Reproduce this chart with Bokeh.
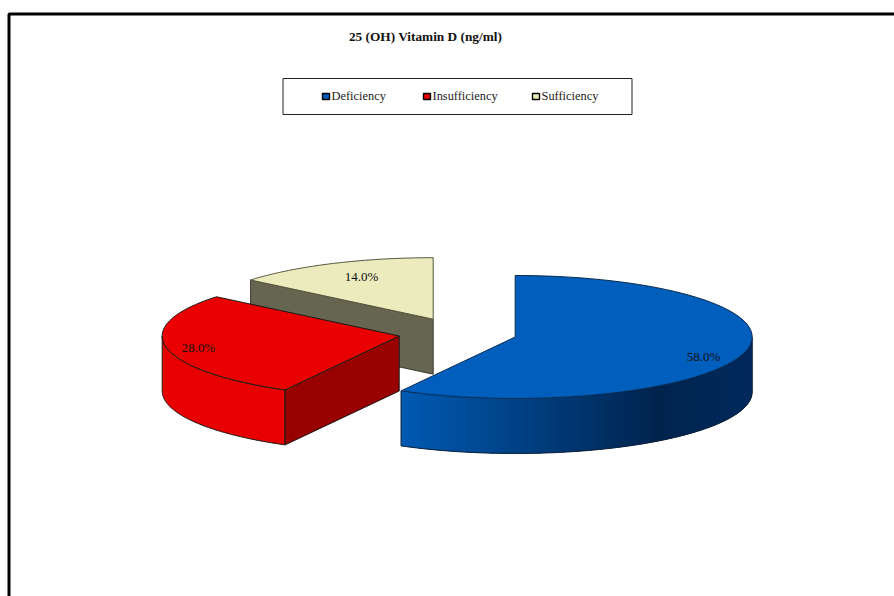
import numpy as np
from bokeh.core.properties import value
from bokeh.embed import file_html
from bokeh.models import Range1d
from bokeh.plotting import figure
from bokeh.resources import INLINE

# Chart content
title = "25 (OH) Vitamin D (ng/ml)"
categories = ["Deficiency", "Insufficiency", "Sufficiency"]
shares = [58.0, 28.0, 14.0]
top_colors = ["#005ebd", "#ea0000", "#ebebbd"]
side_colors = ["#002a5c", "#e80000", "#666650"]
cut_colors = ["#002a5c", "#990000", "#666650"]

# Exploded pie geometry, in page pixels
centers = [(514.7, 336.5), (398.7, 335.5), (432.7, 318.7)]
RX, RY, DEPTH = 237, 61.5, 55
FONT = value("Liberation Serif")
OUTLINE = "#1a1a1a"

p = figure(width=894, height=596, output_backend="svg", toolbar_location=None,
           x_range=Range1d(0, 894), y_range=Range1d(596, 0),
           min_border=0, outline_line_color=None)
p.axis.visible = False
p.grid.visible = False


def rim(cx, cy, a0, a1, drop=0, n=80):
    """Points along the tilted rim; angles run clockwise from twelve o'clock."""
    t = np.radians(np.linspace(a0, a1, n))
    return cx + RX * np.sin(t), cy - RY * np.cos(t) + drop


# Angular extent of each slice, from the shares
edges = np.concatenate([[0], np.cumsum(shares)]) * 3.6
spans = list(zip(edges[:-1], edges[1:]))

# Page frame
p.line([8.5, 8.5, 894], [596, 13.5, 13.5], line_color="black", line_width=3)

# Sufficiency: only its cut face and top are visible
(a0, a1), (cx, cy) = spans[2], centers[2]
ex, ey = rim(cx, cy, a0, a0, n=1)
p.patch([ex[0], cx, cx, ex[0]], [ey[0], cy, cy + DEPTH, ey[0] + DEPTH],
        fill_color=cut_colors[2], line_color="#3c3c30", line_width=1)
x, y = rim(cx, cy, a0, a1)
p.patch([cx, *x], [cy, *y], fill_color=top_colors[2], line_color="#55553f", line_width=1)

# Insufficiency: outer wall, cut face, top
(a0, a1), (cx, cy) = spans[1], centers[1]
x, y = rim(cx, cy, a0, 270)
bx, by = rim(cx, cy, a0, 270, drop=DEPTH)
p.patch([*x, *bx[::-1]], [*y, *by[::-1]], fill_color=side_colors[1],
        line_color=OUTLINE, line_width=1)
ex, ey = rim(cx, cy, a0, a0, n=1)
p.patch([cx, ex[0], ex[0], cx], [cy, ey[0], ey[0] + DEPTH, cy + DEPTH],
        fill_color=cut_colors[1], line_color=OUTLINE, line_width=1)
x, y = rim(cx, cy, a0, a1)
p.patch([cx, *x], [cy, *y], fill_color=top_colors[1], line_color=OUTLINE, line_width=1)

# Deficiency: shaded outer wall from overlapping strips, then the top
(a0, a1), (cx, cy) = spans[0], centers[0]
light = np.array([0, 90, 178])
dark = np.array([0, 36, 78])
end = np.array([0, 42, 92])
wall = np.linspace(a1, 90, 121)
for i, s0 in enumerate(wall[:-1]):
    s1 = wall[min(i + 3, len(wall) - 1)]  # each strip runs under the following ones
    x0, y0 = rim(cx, cy, s0, s1, n=6)
    xb, yb = rim(cx, cy, s0, s1, drop=DEPTH, n=6)
    mid = x0[0]
    f = np.clip((mid - 401) / 255, 0, 1)
    c = light + (dark - light) * f if f < 1 else dark + (end - dark) * np.clip((mid - 656) / 96, 0, 1)
    col = "#%02x%02x%02x" % tuple(int(v) for v in c)
    p.patch([*x0, *xb[::-1]], [*y0, *yb[::-1]], fill_color=col, line_color=None)
x, y = rim(cx, cy, a1, 90)
bx, by = rim(cx, cy, a1, 90, drop=DEPTH)
p.line([x[0], *bx, x[-1]], [y[0], *by, y[-1]], line_color="#12233a", line_width=1)
x, y = rim(cx, cy, a0, a1)
p.patch([cx, *x], [cy, *y], fill_color=top_colors[0], line_color="#0a2a4e", line_width=1)

# Value labels
label_x = [703, 198, 361]
label_y = [356, 346.5, 275.5]
p.text(label_x, label_y, text=[f"{v:.1f}%" for v in shares], text_font=FONT,
       text_font_size="13px", text_color="#111111", text_align="center", text_baseline="middle")

# Title
p.text([425], [35.5], text=[title], text_font=FONT, text_font_size="13.3px", text_font_style="bold",
       text_color="#111111", text_align="center", text_baseline="middle")

# Legend box with swatches and labels
p.quad(left=[282.5], right=[631.5], top=[78], bottom=[114], fill_color="white",
       line_color="#222222", line_width=1)
swatch_x = [322, 423, 532]
for sx, name, col in zip(swatch_x, categories, top_colors):
    p.quad(left=[sx], right=[sx + 7], top=[93], bottom=[99], fill_color=col,
           line_color="black", line_width=1.4)
    p.text([sx + 9], [95.5], text=[name], text_font=FONT, text_font_size="12.4px",
           text_color="#222222", text_align="left", text_baseline="middle")

open("out.html", "w").write(file_html(p, INLINE))
